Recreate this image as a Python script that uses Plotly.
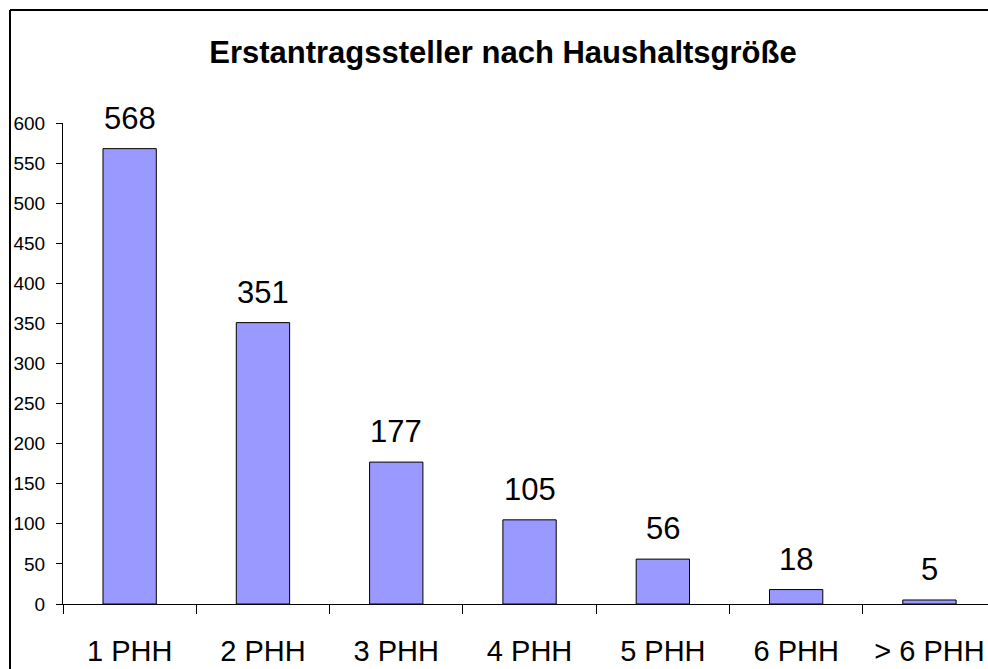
import plotly.graph_objects as go

categories = ["1 PHH", "2 PHH", "3 PHH", "4 PHH", "5 PHH", "6 PHH", "> 6 PHH"]
values = [568, 351, 177, 105, 56, 18, 5]
title_text = "Erstantragssteller nach Haushaltsgröße"
y_ticks = list(range(0, 601, 50))

W, H = 1010, 669
L, R, T, B = 63, 0, 123, 65

fig = go.Figure()
fig.add_trace(go.Bar(
    x=categories, y=values, width=0.4,
    marker=dict(color="#9999FF", line=dict(color="black", width=1)),
    cliponaxis=False, hoverinfo="skip",
))

for c, v in zip(categories, values):
    fig.add_annotation(x=c, y=v, text=str(v), showarrow=False,
                       xanchor="center", yanchor="bottom", yshift=11,
                       font=dict(family="Liberation Sans, Arial", size=31, color="black"))

plot_w = W - L - R
plot_h = H - T - B
bx = (10 - L) / plot_w
by_top = (H - B - 10) / plot_h
by_bot = -(B + 30) / plot_h
bx_right = 1 + 30 / plot_w
fig.update_layout(
    width=W, height=H,
    margin=dict(l=L, r=R, t=T, b=B, pad=0),
    paper_bgcolor="white", plot_bgcolor="white",
    showlegend=False,
    font=dict(family="Liberation Sans, Arial", color="black"),
    title=dict(text=f"<b>{title_text}</b>", x=503 / W, xanchor="center",
               y=1 - 52 / H, yanchor="middle",
               font=dict(size=31, family="Liberation Sans, Arial", color="black")),
    xaxis=dict(
        type="category", range=[-0.5, -0.5 + plot_w / 133.3],
        showline=True, linecolor="black", linewidth=1,
        ticks="outside", ticklen=9, tickcolor="black", tickwidth=1,
        tickson="boundaries", showgrid=False, zeroline=False,
        tickfont=dict(size=29, color="black"), ticklabelstandoff=21,
    ),
    yaxis=dict(
        range=[0, 600], tickvals=y_ticks,
        showline=True, linecolor="black", linewidth=1,
        ticks="outside", ticklen=6, tickcolor="black", tickwidth=1,
        showgrid=False, zeroline=False,
        tickfont=dict(size=19, color="black"), ticklabelstandoff=7,
    ),
    shapes=[
        dict(type="line", xref="paper", yref="paper",
             x0=bx, x1=bx, y0=by_bot, y1=by_top,
             line=dict(color="black", width=2), layer="above"),
        dict(type="line", xref="paper", yref="paper",
             x0=bx, x1=bx_right, y0=by_top, y1=by_top,
             line=dict(color="black", width=2), layer="above"),
    ],
)

fig.write_html("out.html", config={"displayModeBar": False},
               post_script="document.body.style.margin='0';document.body.style.overflow='hidden';")
